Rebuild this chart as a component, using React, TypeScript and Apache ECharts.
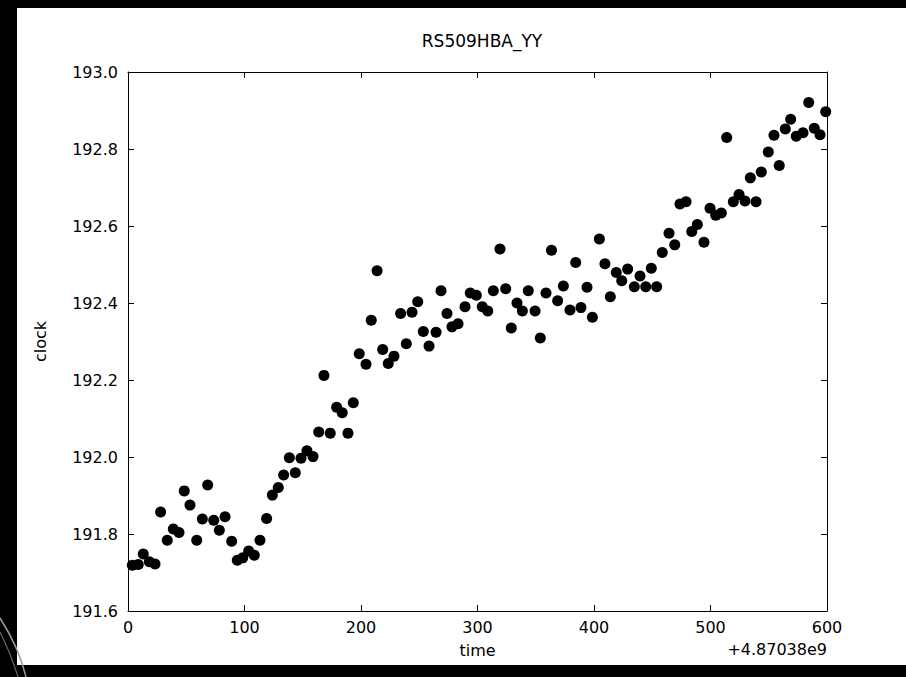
import React, { useEffect, useRef } from "react";
import * as echarts from "echarts";

const timeOffsets: number[] = [
  3.7, 8.8, 13.1, 18.3, 23.2, 28.0, 33.7, 38.9, 43.8, 48.3,
  53.2, 59.0, 63.8, 68.4, 73.6, 78.4, 83.3, 89.0, 93.8, 98.5,
  103.6, 108.4, 113.3, 119.0, 123.9, 129.0, 133.6, 138.5, 143.6, 148.5,
  153.6, 158.8, 163.7, 168.2, 173.6, 179.1, 183.9, 188.8, 193.4, 198.5,
  204.3, 208.8, 213.8, 218.6, 223.4, 228.3, 234.0, 238.9, 243.8, 248.7,
  253.5, 258.4, 264.4, 268.7, 273.8, 278.1, 283.3, 289.3, 293.8, 299.0,
  304.1, 308.8, 313.6, 319.3, 324.2, 329.0, 333.9, 338.5, 343.6, 349.4,
  353.9, 358.8, 363.5, 368.8, 373.7, 379.4, 384.3, 388.8, 394.0, 398.6,
  404.6, 409.4, 414.0, 419.1, 423.8, 428.9, 434.6, 439.5, 444.4, 449.2,
  453.8, 458.6, 464.4, 469.3, 473.8, 479.0, 483.9, 488.7, 494.4, 499.6,
  504.5, 509.3, 513.9, 519.6, 524.5, 529.6, 534.2, 539.1, 543.6, 549.6,
  554.5, 559.0, 564.2, 568.8, 573.6, 579.4, 584.3, 589.1, 594.0, 598.9,
];

const clockValues: number[] = [
  191.719, 191.721, 191.748, 191.728, 191.722, 191.857, 191.784, 191.813, 191.804, 191.912,
  191.875, 191.784, 191.839, 191.927, 191.836, 191.81, 191.845, 191.781, 191.732, 191.738,
  191.756, 191.745, 191.784, 191.84, 191.901, 191.921, 191.953, 191.998, 191.959, 191.997,
  192.016, 192.001, 192.065, 192.212, 192.062, 192.129, 192.115, 192.062, 192.141, 192.268,
  192.241, 192.355, 192.484, 192.279, 192.243, 192.262, 192.373, 192.294, 192.376, 192.403,
  192.326, 192.288, 192.324, 192.432, 192.373, 192.338, 192.346, 192.39, 192.426, 192.42,
  192.39, 192.379, 192.432, 192.54, 192.437, 192.335, 192.4, 192.379, 192.432, 192.379,
  192.309, 192.426, 192.537, 192.406, 192.444, 192.382, 192.505, 192.388, 192.441, 192.363,
  192.566, 192.502, 192.416, 192.479, 192.458, 192.488, 192.442, 192.47, 192.442, 192.49,
  192.442, 192.531, 192.581, 192.551, 192.657, 192.663, 192.586, 192.604, 192.558, 192.646,
  192.628, 192.634, 192.83, 192.663, 192.682, 192.665, 192.725, 192.663, 192.74, 192.792,
  192.836, 192.757, 192.852, 192.877, 192.833, 192.842, 192.921, 192.854, 192.837, 192.897,
];

const titleText = "RS509HBA_YY";
const xAxisName = "time";
const yAxisName = "clock";
const offsetText = "+4.87038e9";

const FONT = "DejaVu Sans";

export default function App() {
  const ref = useRef<HTMLDivElement>(null);

  useEffect(() => {
    if (!ref.current) return;
    const chart = echarts.init(ref.current, null, { renderer: "svg" });
    const points = timeOffsets.map((t, i) => [t, clockValues[i]]);
    const axisLine = { show: true, onZero: false, lineStyle: { color: "#000", width: 1 } };
    const tick = { show: true, inside: true, length: 6, lineStyle: { color: "#000", width: 1 } };
    const label = { color: "#000", fontFamily: FONT, fontSize: 16 };

    chart.setOption({
      animation: false,
      backgroundColor: "transparent",
      title: {
        text: titleText,
        left: 477,
        top: 27,
        textAlign: "center",
        textStyle: { color: "#000", fontFamily: FONT, fontSize: 17, fontWeight: "normal" },
      },
      grid: { left: 128, right: 79, top: 72, bottom: 66, show: false },
      xAxis: [
        {
          type: "value",
          min: 0,
          max: 600,
          interval: 100,
          position: "bottom",
          axisLine,
          axisTick: tick,
          splitLine: { show: false },
          axisLabel: { ...label, margin: 8 },
          name: xAxisName,
          nameLocation: "middle",
          nameGap: 31,
          nameTextStyle: { color: "#000", fontFamily: FONT, fontSize: 16 },
        },
        {
          type: "value",
          min: 0,
          max: 600,
          interval: 100,
          position: "top",
          axisLine,
          axisTick: tick,
          splitLine: { show: false },
          axisLabel: { show: false },
        },
      ],
      yAxis: [
        {
          type: "value",
          min: 191.6,
          max: 193.0,
          interval: 0.2,
          position: "left",
          axisLine,
          axisTick: tick,
          splitLine: { show: false },
          axisLabel: { ...label, margin: 10, formatter: (v: number) => v.toFixed(1) },
          name: yAxisName,
          nameLocation: "middle",
          nameGap: 80,
          nameRotate: 90,
          nameTextStyle: { color: "#000", fontFamily: FONT, fontSize: 16 },
        },
        {
          type: "value",
          min: 191.6,
          max: 193.0,
          interval: 0.2,
          position: "right",
          axisLine,
          axisTick: tick,
          splitLine: { show: false },
          axisLabel: { show: false },
        },
      ],
      graphic: [
        {
          type: "text",
          right: 79,
          top: 641,
          style: { text: offsetText, fill: "#000", font: `16px "${FONT}"`, textAlign: "right" },
        },
        {
          type: "bezierCurve",
          shape: { x1: 0, y1: 618, x2: 26, y2: 677, cpx1: 14, cpy1: 640, cpx2: 22, cpy2: 660 },
          style: { stroke: "#9a9a9a", lineWidth: 1.5, fill: "none" },
        },
        {
          type: "bezierCurve",
          shape: { x1: 0, y1: 632, x2: 18, y2: 677, cpx1: 8, cpy1: 648, cpx2: 14, cpy2: 664 },
          style: { stroke: "#6a6a6a", lineWidth: 1.2, fill: "none" },
        },
      ],
      series: [
        {
          type: "scatter",
          data: points,
          symbol: "circle",
          symbolSize: 11,
          itemStyle: { color: "#000", opacity: 1 },
          xAxisIndex: 0,
          yAxisIndex: 0,
        },
      ],
    });
    return () => chart.dispose();
  }, []);

  return (
    <div style={{ position: "fixed", left: 0, top: 0, width: 906, height: 677, background: "#000", overflow: "hidden" }}>
      <div style={{ position: "absolute", left: 17, top: 8, width: 889, height: 657, background: "#fff" }} />
      <div ref={ref} style={{ position: "absolute", left: 0, top: 0, width: 906, height: 677 }} />
    </div>
  );
}
